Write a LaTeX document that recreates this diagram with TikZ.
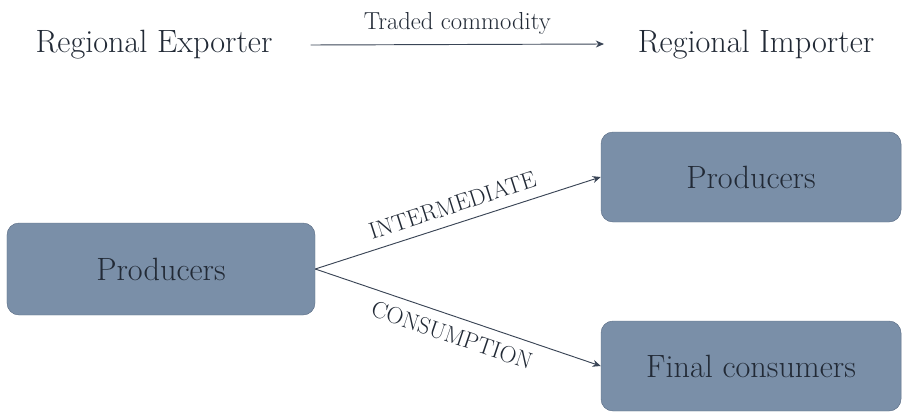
\documentclass[tikz,border=0pt]{standalone}
\usepackage{tikz}
\usetikzlibrary{arrows.meta}

\definecolor{boxfill}{HTML}{7A8FA8}
\definecolor{boxline}{HTML}{5E7088}
\definecolor{inkdark}{HTML}{222A36}
\definecolor{arrowink}{HTML}{3A4556}

\begin{document}
\begin{tikzpicture}[x=0.03cm,y=-0.03cm,
    agent/.style={draw=boxline,fill=boxfill,rounded corners=0.36cm,text=inkdark,
        font=\fontsize{27.5}{32}\selectfont,inner sep=0pt},
    region/.style={text=inkdark,font=\fontsize{27.5}{32}\selectfont},
    flow/.style={draw=arrowink,thick,-{Stealth[length=7pt,width=6pt]}},
    flowlabel/.style={text=inkdark,font=\fontsize{20}{24}\selectfont,sloped}]

    % Canvas
    \useasboundingbox (0,0) rectangle (903,413);

    % Regions on top
    \node[region] (exporter) at (154,45) {Regional Exporter};
    \node[region] (importer) at (756,45) {Regional Importer};
    \draw[flow] (exporter.east) ++(34,0) coordinate (tradeA) -- (604,44) coordinate (tradeB)
        node[midway,above=5pt,text=inkdark,font=\fontsize{21}{25}\selectfont] (traded) {Traded commodity};

    % Boxes
    \node[agent,minimum width=9.24cm,minimum height=2.76cm] (prodA) at (161,269) {Producers};
    \node[agent,minimum width=9cm,minimum height=2.7cm] (prodB) at (751,177) {Producers};
    \node[agent,minimum width=9cm,minimum height=2.7cm] (final) at (751,366) {Final consumers};

    % Flows between boxes
    \draw[flow] (prodA.east) -- (prodB.west) node[flowlabel,midway,above=5pt] (interm) {INTERMEDIATE};
    \draw[flow] (prodA.east) -- (final.west) node[flowlabel,midway,below=5pt] (consum) {CONSUMPTION};

\end{tikzpicture}
\end{document}
